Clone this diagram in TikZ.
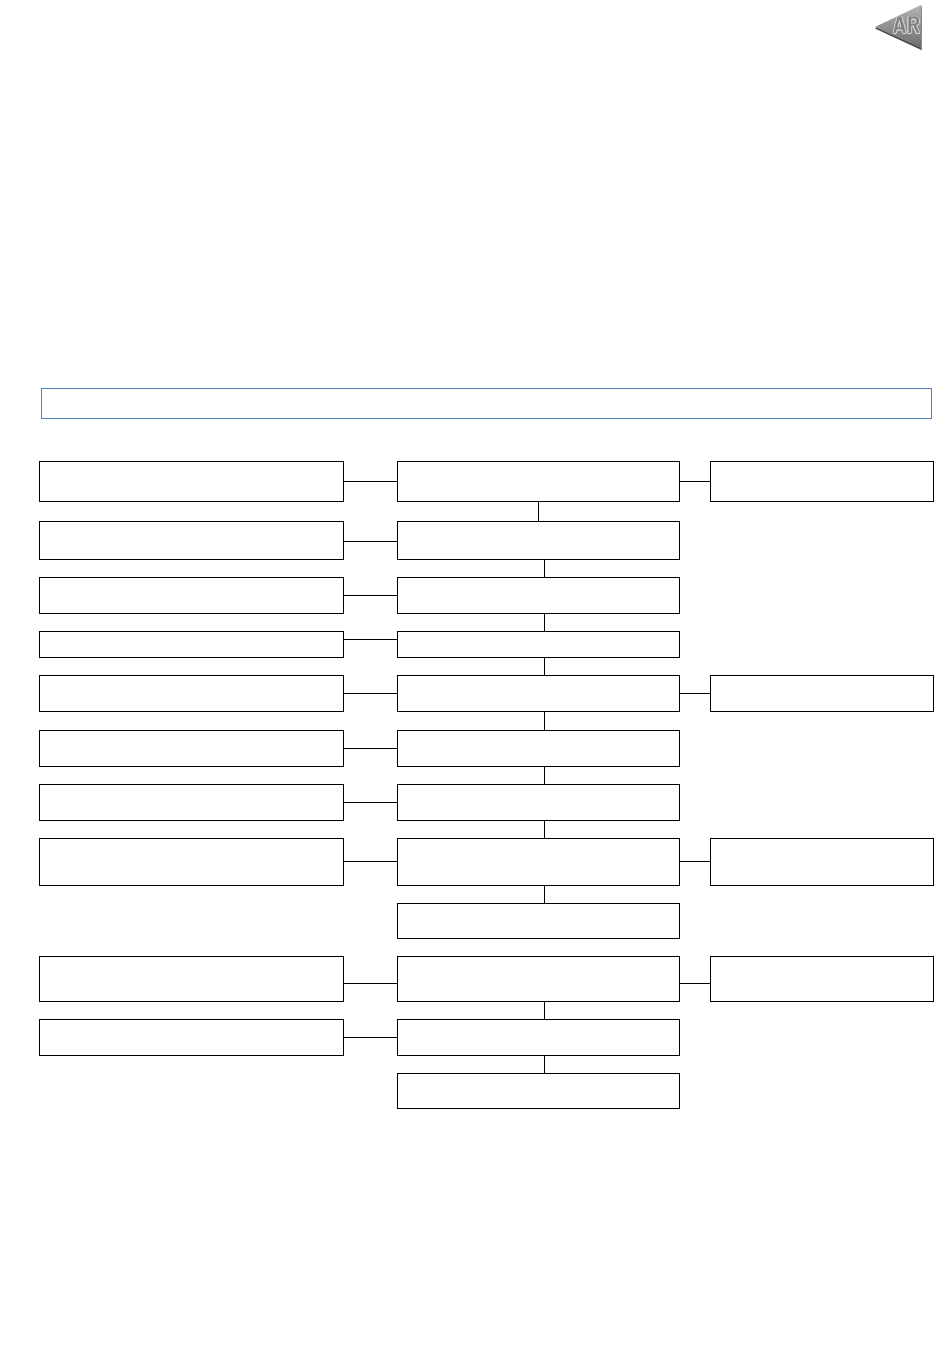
\documentclass[tikz,border=0pt]{standalone}
\usepackage{fontspec}
\usetikzlibrary{positioning,calc}
\definecolor{bannerblue}{HTML}{4F81BD}
\definecolor{badgegrey}{HTML}{808080}
\definecolor{badgedark}{HTML}{4A4A4A}
\tikzset{
  flowbox/.style={draw=black, rectangle, inner sep=0pt, line width=1pt},
  leftbox/.style={flowbox, minimum width=304pt},
  midbox/.style={flowbox, minimum width=282pt},
  rightbox/.style={flowbox, minimum width=223pt},
  bannerbox/.style={draw=bannerblue, rectangle, inner sep=0pt, line width=1pt,
    minimum width=890pt, minimum height=30pt},
  link/.style={draw=black, line width=1pt},
  badgetext/.style={font=\sffamily\bfseries\fontsize{24}{24}\selectfont, inner sep=0pt,
    xscale=0.8, transform shape},
}
\begin{document}
\begin{tikzpicture}[x=1pt,y=-1pt]
\useasboundingbox (0,0) rectangle (950,1360);
% back badge in the corner
\fill[badgedark] (875,28.5) -- (921.5,6) -- (921.5,50) -- cycle;
\shade[top color=badgegrey!60, bottom color=badgegrey!85!black] (875,27) -- (921,5) -- (921,48) -- cycle;
\foreach \dx/\dy [count=\n] in {-.8/0,.8/0,0/-.8,0/.8,-.6/-.6,.6/.6,-.6/.6,.6/-.6}
  \node[badgetext, text=white!85!black] (arglow\n) at (906.5+\dx,25.5+\dy) {AR};
\node[badgetext, text=badgegrey] (arfront) at (906.5,25.5) {AR};
% blue banner
\node[bannerbox] (banner) at (486.5,403) {};
% left column
\node[leftbox, minimum height=40pt] (l1) at (191.5,481) {};
\node[leftbox, minimum height=38pt] (l2) at (191.5,540) {};
\node[leftbox, minimum height=36pt] (l3) at (191.5,595) {};
\node[leftbox, minimum height=26pt] (l4) at (191.5,644) {};
\node[leftbox, minimum height=36pt] (l5) at (191.5,693) {};
\node[leftbox, minimum height=36pt] (l6) at (191.5,748) {};
\node[leftbox, minimum height=36pt] (l7) at (191.5,802) {};
\node[leftbox, minimum height=47pt] (l8) at (191.5,861.5) {};
\node[leftbox, minimum height=45pt] (l10) at (191.5,978.5) {};
\node[leftbox, minimum height=36pt] (l11) at (191.5,1037) {};
% middle column
\node[midbox, minimum height=40pt] (m1) at (538.5,481) {};
\node[midbox, minimum height=38pt] (m2) at (538.5,540) {};
\node[midbox, minimum height=36pt] (m3) at (538.5,595) {};
\node[midbox, minimum height=26pt] (m4) at (538.5,644) {};
\node[midbox, minimum height=36pt] (m5) at (538.5,693) {};
\node[midbox, minimum height=36pt] (m6) at (538.5,748) {};
\node[midbox, minimum height=36pt] (m7) at (538.5,802) {};
\node[midbox, minimum height=47pt] (m8) at (538.5,861.5) {};
\node[midbox, minimum height=35pt] (m9) at (538.5,920.5) {};
\node[midbox, minimum height=45pt] (m10) at (538.5,978.5) {};
\node[midbox, minimum height=36pt] (m11) at (538.5,1037) {};
\node[midbox, minimum height=35pt] (m12) at (538.5,1090.5) {};
% right column
\node[rightbox, minimum height=40pt] (r1) at (822,481) {};
\node[rightbox, minimum height=36pt] (r5) at (822,693) {};
\node[rightbox, minimum height=47pt] (r8) at (822,861.5) {};
\node[rightbox, minimum height=45pt] (r10) at (822,978.5) {};
% left to middle
\foreach \row in {1,3,5,6,7,8,11}
  \draw[link] (l\row) -- (m\row);
\draw[link] ($(l2.east)+(0,1)$) -- ($(m2.west)+(0,1)$);
\draw[link] ($(l4.east)+(0,-5)$) -- ($(m4.west)+(0,-5)$);
\draw[link] ($(l10.east)+(0,4.5)$) -- ($(m10.west)+(0,4.5)$);
% middle to right
\foreach \row in {1,5,8}
  \draw[link] (m\row) -- (r\row);
\draw[link] ($(m10.east)+(0,4.5)$) -- ($(r10.west)+(0,4.5)$);
% down the middle
\draw[link] (m1) -- (m2);
\coordinate (drop) at (544.5,0);
\foreach \a/\b in {2/3,3/4,4/5,5/6,6/7,7/8,8/9,10/11,11/12}
  \draw[link] (m\a.south -| drop) -- (m\b.north -| drop);
\end{tikzpicture}
\end{document}
